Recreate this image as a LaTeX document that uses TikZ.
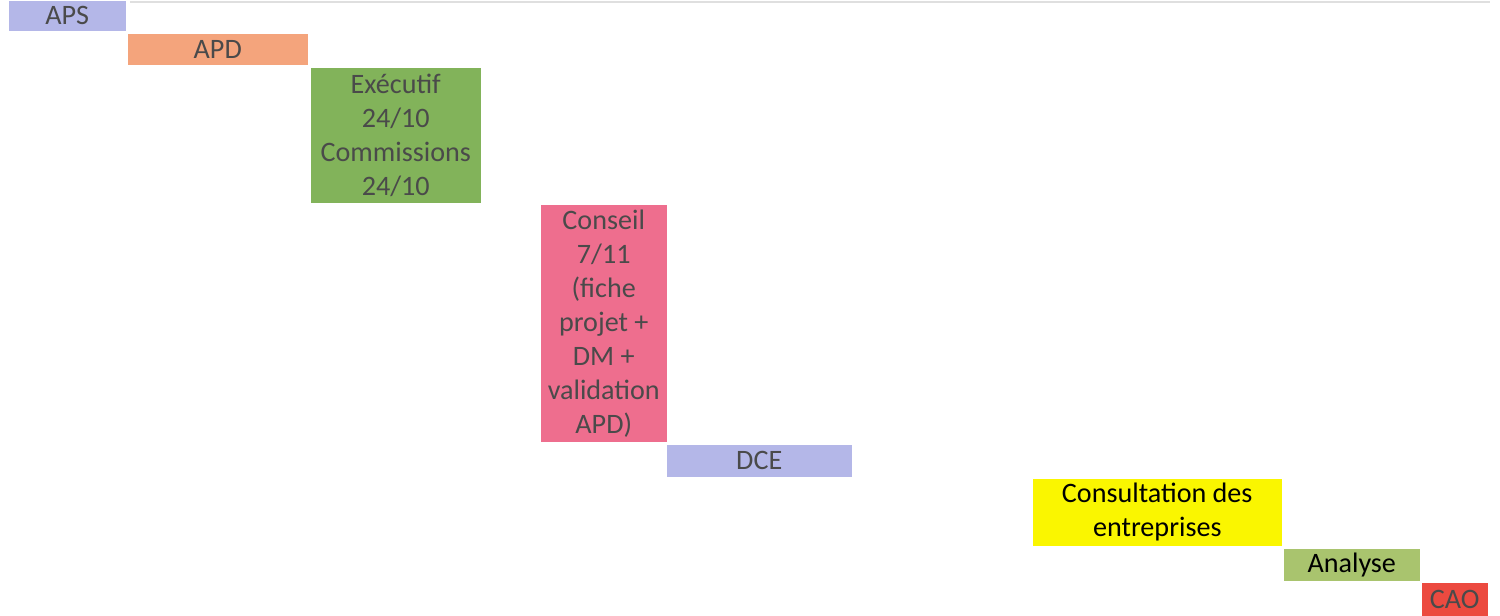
\documentclass[tikz,border=0pt]{standalone}
\usepackage{fontspec}
\setmainfont{Carlito}
\usepackage{xcolor}

\definecolor{lilac}{HTML}{B4B7E8}
\definecolor{apdorange}{HTML}{F4A47C}
\definecolor{execgreen}{HTML}{82B35A}
\definecolor{conseilpink}{HTML}{EE6E8E}
\definecolor{consultyellow}{HTML}{FAF600}
\definecolor{analysegreen}{HTML}{A9C46E}
\definecolor{caored}{HTML}{EC4A40}
\definecolor{textgrey}{HTML}{4A4A4A}

\begin{document}
\begin{tikzpicture}[x=0.01cm, y=-0.01cm,
    phase/.style={anchor=north west, inner sep=0pt, align=center,
      font=\fontsize{8}{9.67}\selectfont, text=textgrey}]
    \useasboundingbox (0,0) rectangle (1500,615);
    % faint rule along the top
    \draw[gray!25, line width=0.4pt] (130,2) -- (1490,2);
    % phases
    \node[phase, fill=lilac, minimum width=1.17cm, minimum height=0.30cm] (aps) at (8,0) {APS};
    \node[phase, fill=apdorange, minimum width=1.80cm, minimum height=0.31cm] (apd) at (127,33) {APD};
    \node[phase, fill=execgreen, minimum width=1.70cm, minimum height=1.35cm] (exec) at (310,67)
        {Exécutif\\24/10\\Commissions\\24/10};
    \node[phase, fill=conseilpink, minimum width=1.26cm, minimum height=2.37cm] (conseil) at (540,204)
        {Conseil\\7/11\\(fiche\\projet +\\DM +\\validation\\APD)};
    \node[phase, fill=lilac, minimum width=1.85cm, minimum height=0.32cm] (dce) at (666,444) {DCE};
    % consultation
    \node[phase, fill=consultyellow, text=black, minimum width=2.49cm, minimum height=0.67cm] (consult) at (1032,478)
        {Consultation des\\entreprises};
    \node[phase, fill=analysegreen, text=black, minimum width=1.36cm, minimum height=0.32cm] (analyse) at (1283,548) {Analyse};
    \node[phase, fill=caored, minimum width=0.66cm, minimum height=0.33cm] (cao) at (1421,582) {CAO};
\end{tikzpicture}
\end{document}
